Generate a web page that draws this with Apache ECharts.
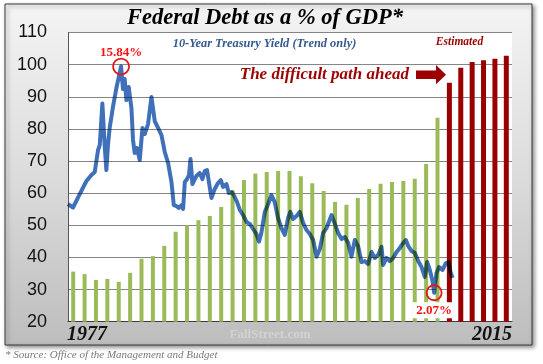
<!DOCTYPE html>
<html>
<head>
<meta charset="utf-8">
<script src="https://cdn.jsdelivr.net/npm/echarts@6/dist/echarts.min.js"></script>
<style>
html,body{margin:0;padding:0;background:#fff;}
#chart{width:543px;height:364px;}
</style>
</head>
<body>
<div id="chart"></div>
<script>
// ---- data ----
const categories = ['1977','1978','1979','1980','1981','1982','1983','1984','1985','1986',
  '1987','1988','1989','1990','1991','1992','1993','1994','1995','1996',
  '1997','1998','1999','2000','2001','2002','2003','2004','2005','2006',
  '2007','2008','2009','2010','2011','2012','2013','2014','2015'];
// Federal debt as % of GDP, actual (1977-2009)
const actualDebt = [35.6, 34.8, 33.0, 33.3, 32.4, 35.2, 39.6, 40.4, 43.6, 48.0,
  50.0, 51.6, 52.9, 55.7, 60.8, 64.1, 66.1, 66.6, 66.9, 66.9,
  65.3, 63.1, 60.7, 57.3, 56.4, 58.5, 61.3, 62.9, 63.5, 63.8,
  64.5, 69.1, 83.5];
// Estimated (2010-2015)
const estimatedDebt = [94.4, 99.0, 100.8, 101.4, 101.8, 102.8];
const yTicks = [20, 30, 40, 50, 60, 70, 80, 90, 100, 110];

// 10-year treasury yield (trend only), position in years on the chart & yield %
const yieldYears = [1976.50,1976.94,1977.53,1978.12,1978.56,1978.85,1979.14,1979.29,1979.52,1979.72,
  1979.87,1980.01,1980.16,1980.45,1980.75,1980.98,1981.16,1981.33,1981.48,1981.63,
  1981.83,1982.07,1982.21,1982.36,1982.56,1982.80,1983.04,1983.24,1983.53,1983.83,
  1984.12,1984.41,1984.71,1985.00,1985.29,1985.59,1985.79,1986.03,1986.23,1986.47,
  1986.61,1986.76,1986.96,1987.13,1987.26,1987.43,1987.78,1988.07,1988.31,1988.51,
  1988.71,1988.89,1989.10,1989.39,1989.68,1989.92,1990.12,1990.42,1990.62,1990.89,
  1991.10,1991.35,1991.59,1991.88,1992.18,1992.47,1992.76,1993.04,1993.28,1993.50,
  1993.79,1994.08,1994.37,1994.66,1994.95,1995.25,1995.54,1995.83,1996.03,1996.27,
  1996.57,1996.86,1997.15,1997.45,1997.74,1998.03,1998.33,1998.62,1998.91,1999.21,
  1999.65,1999.94,2000.23,2000.53,2000.82,2001.11,2001.40,2001.69,2001.98,2002.28,
  2002.57,2002.86,2003.16,2003.45,2003.74,2004.04,2004.18,2004.48,2004.77,2005.06,
  2005.36,2005.65,2005.94,2006.18,2006.38,2006.68,2006.97,2007.26,2007.55,2007.84,
  2008.05,2008.28,2008.52,2008.66,2008.87,2009.10,2009.40,2009.69,2009.93,2010.10,
  2010.28];
const yieldValues = [7.47,7.26,8.08,8.87,9.24,9.42,10.76,11.06,13.59,11.06,
  9.54,11.06,12.10,13.38,14.53,15.26,15.84,14.47,15.08,13.80,
  14.59,13.32,11.37,10.58,10.88,10.15,12.10,11.73,12.34,13.99,
  12.52,12.10,11.67,10.64,9.97,8.81,7.41,7.35,7.23,7.41,
  7.17,8.81,8.99,9.24,10.21,8.69,9.18,9.36,8.99,9.48,
  9.54,8.75,7.84,8.39,8.75,8.93,8.51,8.69,8.14,8.20,
  7.96,7.59,7.11,6.80,6.38,6.26,5.95,5.65,5.18,5.77,
  6.99,7.47,8.02,7.59,6.62,6.01,5.59,6.62,6.99,6.56,
  6.74,6.99,6.32,5.89,5.65,5.28,4.27,4.73,5.71,6.01,
  6.80,6.26,5.71,5.34,5.46,5.10,4.27,5.28,4.92,3.94,
  4.00,3.82,4.55,4.19,4.37,4.86,3.76,4.19,4.00,4.19,
  4.55,4.80,5.10,5.28,4.92,4.61,4.49,4.00,3.64,3.03,
  3.94,3.46,2.79,2.07,3.27,3.64,3.46,3.88,3.94,3.33,
  2.97];
const peakYield = {year: 1981.16, value: 15.84, label: '15.84%'};
const lowYield = {year: 2008.66, value: 2.07, label: '2.07%'};

// ---- build ----
const nAct = actualDebt.length;
const actualSeries = categories.map((c, i) => i < nAct ? actualDebt[i] : null);
const estSeries = categories.map((c, i) => i >= nAct ? estimatedDebt[i - nAct] : null);
const yieldLine = yieldYears.map((y, i) => [y, yieldValues[i]]);

const chart = echarts.init(document.getElementById('chart'), null, {renderer: 'canvas'});
const serif = '"Liberation Serif", "Times New Roman", serif';

const option = {
  backgroundColor: '#ffffff',
  animation: false,
  grid: {
    left: 68, right: 31, top: 32.5, bottom: 42.3,
    show: true, backgroundColor: '#ffffff', borderWidth: 0
  },
  xAxis: [{
    type: 'category',
    data: categories,
    boundaryGap: true,
    axisLine: {show: true, lineStyle: {color: '#3c3c3c', width: 1}},
    axisTick: {show: false},
    axisLabel: {show: false},
    splitLine: {show: false}
  }, {
    type: 'value',
    min: 1976.5, max: 2015.5,
    show: false
  }],
  yAxis: [{
    type: 'value',
    min: yTicks[0], max: yTicks[yTicks.length - 1], interval: 10,
    axisLine: {show: true, lineStyle: {color: '#555555', width: 1}},
    axisTick: {show: false},
    axisLabel: {
      color: '#111', fontSize: 18, margin: 21,
      fontFamily: '"Liberation Sans", Arial, sans-serif'
    },
    splitLine: {show: true, lineStyle: {color: '#858585', width: 1}}
  }, {
    type: 'value',
    min: 0.309, max: 17.911,
    show: false
  }],
  series: [{
    name: 'Actual',
    type: 'bar',
    data: actualSeries,
    barWidth: 4,
    barGap: '-100%',
    itemStyle: {color: '#9bbb59'},
    z: 2
  }, {
    name: 'Estimated',
    type: 'bar',
    data: estSeries,
    barWidth: 5,
    barGap: '-100%',
    itemStyle: {color: '#9a0000'},
    z: 2
  }, {
    name: '10-Year Treasury Yield',
    type: 'line',
    xAxisIndex: 1,
    yAxisIndex: 1,
    data: yieldLine,
    showSymbol: false,
    symbol: 'none',
    smooth: false,
    blendMode: 'multiply',
    lineStyle: {color: '#3f70b9', width: 4, join: 'round'},
    z: 4,
    markPoint: {
      symbol: 'circle',
      silent: true,
      data: [{
        coord: [peakYield.year, peakYield.value],
        symbolSize: 16,
        itemStyle: {color: 'rgba(0,0,0,0)', borderColor: '#e01818', borderWidth: 1.8},
        label: {
          show: true, position: 'top', distance: -2,
          formatter: peakYield.label,
          color: '#ff1010', fontSize: 13, fontWeight: 'bold', fontFamily: serif
        }
      }, {
        coord: [lowYield.year, lowYield.value],
        symbolSize: 15,
        itemStyle: {color: 'rgba(0,0,0,0)', borderColor: '#e01818', borderWidth: 1.8},
        label: {
          show: true, position: 'bottom', distance: 1,
          formatter: lowYield.label,
          color: '#ff1010', fontSize: 13, fontWeight: 'bold', fontFamily: serif,
          backgroundColor: '#ffffff', padding: [2, 4, 1, 4]
        }
      }]
    }
  }],
  graphic: [{
    type: 'rect',
    z: -10,
    silent: true,
    shape: {x: 5, y: 4, width: 527, height: 341},
    style: {
      fill: new echarts.graphic.LinearGradient(0, 0, 0, 1, [
        {offset: 0, color: '#f4f4f4'},
        {offset: 0.5, color: '#dcdcdc'},
        {offset: 1, color: '#bdbdbd'}
      ]),
      stroke: '#3a3a3a', lineWidth: 1,
      shadowBlur: 4, shadowOffsetX: 2, shadowOffsetY: 2, shadowColor: 'rgba(0,0,0,0.45)'
    }
  }, {
    type: 'text', z: 100, silent: true,
    style: {
      text: 'Federal Debt as a % of GDP*', x: 265, y: 18,
      align: 'center', verticalAlign: 'middle',
      font: 'italic bold 22.5px ' + serif, fill: '#000'
    }
  }, {
    type: 'text', z: 100, silent: true,
    style: {
      text: '10-Year Treasury Yield (Trend only)', x: 264.5, y: 43.5,
      align: 'center', verticalAlign: 'middle',
      font: 'italic bold 12.4px ' + serif, fill: '#35598f'
    }
  }, {
    type: 'text', z: 100, silent: true,
    style: {
      text: 'Estimated', x: 459.5, y: 42.5,
      align: 'center', verticalAlign: 'middle',
      font: 'italic bold 11.5px ' + serif, fill: '#990000'
    }
  }, {
    type: 'text', z: 100, silent: true,
    style: {
      text: 'The difficult path ahead', x: 409, y: 75,
      align: 'right', verticalAlign: 'middle',
      font: 'italic bold 17px ' + serif, fill: '#9c0000'
    }
  }, {
    type: 'polygon', z: 100, silent: true,
    shape: {points: [[416, 70.5], [436, 70.5], [436, 65], [446, 74.7], [436, 84.3], [436, 79], [416, 79]]},
    style: {fill: '#9c0000'}
  }, {
    type: 'text', z: 100, silent: true,
    style: {
      text: '1977', x: 67, y: 335,
      align: 'left', verticalAlign: 'middle',
      font: 'italic bold 20px ' + serif, fill: '#111'
    }
  }, {
    type: 'text', z: 100, silent: true,
    style: {
      text: '2015', x: 512, y: 334.5,
      align: 'right', verticalAlign: 'middle',
      font: 'italic bold 20px ' + serif, fill: '#111'
    }
  }, {
    type: 'text', z: 100, silent: true,
    style: {
      text: 'FallStreet.com', x: 270, y: 335,
      align: 'center', verticalAlign: 'middle',
      font: 'bold 13px ' + serif, fill: '#d2d2d2'
    }
  }, {
    type: 'text', z: 100, silent: true,
    style: {
      text: '* Source: Office of the Management and Budget', x: 5, y: 355,
      align: 'left', verticalAlign: 'middle',
      font: 'italic 11px ' + serif, fill: '#7a7a7a'
    }
  }]
};
chart.setOption(option);
</script>
</body>
</html>
